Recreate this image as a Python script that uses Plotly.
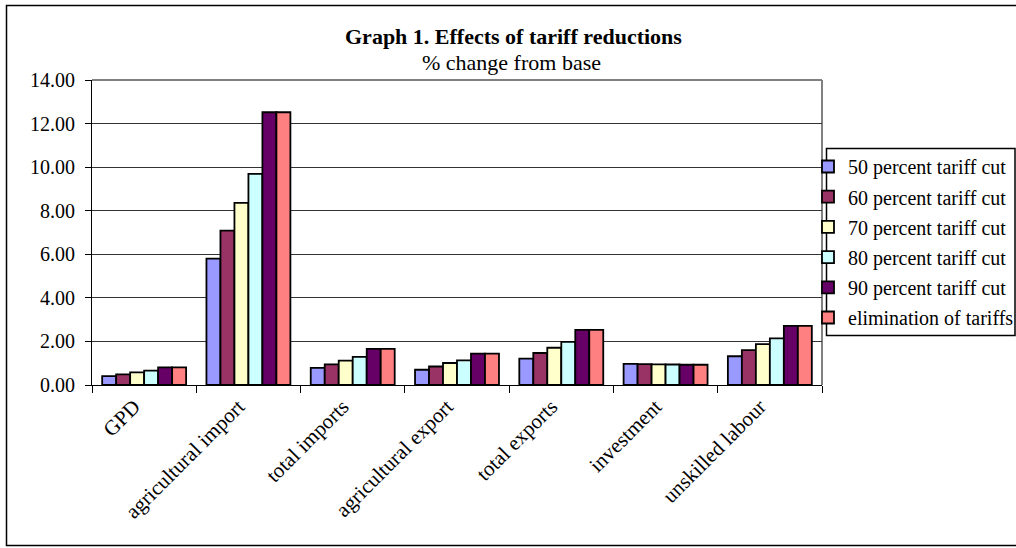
import plotly.graph_objects as go

# Indicators on the x axis
categories = ["GPD", "agricultural import", "total imports", "agricultural export",
              "total exports", "investment", "unskilled labour"]

# % change from base for each tariff scenario
cut_50 = [0.41, 5.80, 0.79, 0.70, 1.21, 0.97, 1.32]
cut_60 = [0.49, 7.09, 0.95, 0.85, 1.47, 0.96, 1.60]
cut_70 = [0.58, 8.36, 1.12, 1.01, 1.71, 0.95, 1.88]
cut_80 = [0.66, 9.69, 1.29, 1.13, 1.98, 0.94, 2.14]
cut_90 = [0.81, 12.52, 1.66, 1.44, 2.53, 0.93, 2.71]
elimination = [0.81, 12.52, 1.66, 1.44, 2.53, 0.93, 2.71]

series = [
    ("50 percent tariff cut", cut_50, "#9999FF"),
    ("60 percent tariff cut", cut_60, "#993366"),
    ("70 percent tariff cut", cut_70, "#FFFFCC"),
    ("80 percent tariff cut", cut_80, "#CCFFFF"),
    ("90 percent tariff cut", cut_90, "#660066"),
    ("elimination of tariffs", elimination, "#FF8080"),
]

W, H = 1016, 548
L, R, T, B = 92, 822, 80, 385

fig = go.Figure()
for i, (name, vals, color) in enumerate(series):
    fig.add_trace(go.Bar(
        x=categories, y=vals, name=name, legendgroup=f"g{i}",
        marker=dict(color=color, line=dict(color="black", width=1.8)),
    ))

serif = "Liberation Serif"


def px_x(v):
    return (v - L) / (R - L)


def px_y(v):
    return (B - v) / (B - T)


fig.update_layout(
    width=W, height=H,
    margin=dict(l=L, r=W - R, t=T, b=H - B, pad=0, autoexpand=False),
    paper_bgcolor="white", plot_bgcolor="white",
    font=dict(family=serif, size=19, color="black"),
    barmode="group", bargap=0.195, bargroupgap=0,
    showlegend=True,
    legend=dict(
        x=px_x(808), y=px_y(147), xanchor="left", yanchor="top",
        borderwidth=0, bgcolor="rgba(0,0,0,0)",
        font=dict(family=serif, size=20, color="black"),
        tracegroupgap=1.2, itemwidth=30,
    ),
    xaxis=dict(
        showline=True, linecolor="black", linewidth=1,
        ticks="outside", ticklen=7, tickcolor="black", tickson="boundaries",
        tickangle=-45, tickfont=dict(family=serif, size=21),
        ticklabelshift=-10,
        showgrid=False, zeroline=False,
    ),
    yaxis=dict(
        range=[0, 14], dtick=2, tickformat=".2f",
        showline=True, linecolor="black", linewidth=1,
        ticks="outside", ticklen=6, tickcolor="black",
        ticklabelstandoff=6,
        tickfont=dict(family=serif, size=20),
        showgrid=True, gridcolor="#333333", gridwidth=1, zeroline=False,
    ),
    annotations=[
        dict(text="<b>Graph 1. Effects of tariff reductions</b>", xref="paper", yref="paper",
             x=px_x(513), y=px_y(36), xanchor="center", yanchor="middle", showarrow=False,
             font=dict(family=serif, size=22, color="black")),
        dict(text="% change from base", xref="paper", yref="paper",
             x=px_x(511), y=px_y(62), xanchor="center", yanchor="middle", showarrow=False,
             font=dict(family=serif, size=22, color="black")),
    ],
    shapes=[
        # plot area frame (grey top and right edges)
        dict(type="line", xref="paper", yref="paper", x0=0, x1=1, y0=1, y1=1,
             line=dict(color="#808080", width=2), layer="below"),
        dict(type="line", xref="paper", yref="paper", x0=1, x1=1, y0=0, y1=1,
             line=dict(color="#808080", width=2), layer="below"),
        # legend box
        dict(type="rect", xref="paper", yref="paper",
             x0=px_x(826.5), x1=px_x(1015), y0=px_y(335.5), y1=px_y(148.5),
             line=dict(color="black", width=1.5), fillcolor="white", layer="below"),
        # chart border
        dict(type="rect", xref="paper", yref="paper",
             x0=px_x(6.5), x1=px_x(1020), y0=px_y(545.5), y1=px_y(5.5),
             line=dict(color="black", width=1.5), layer="above"),
    ],
)

fig.write_html("out.html")
